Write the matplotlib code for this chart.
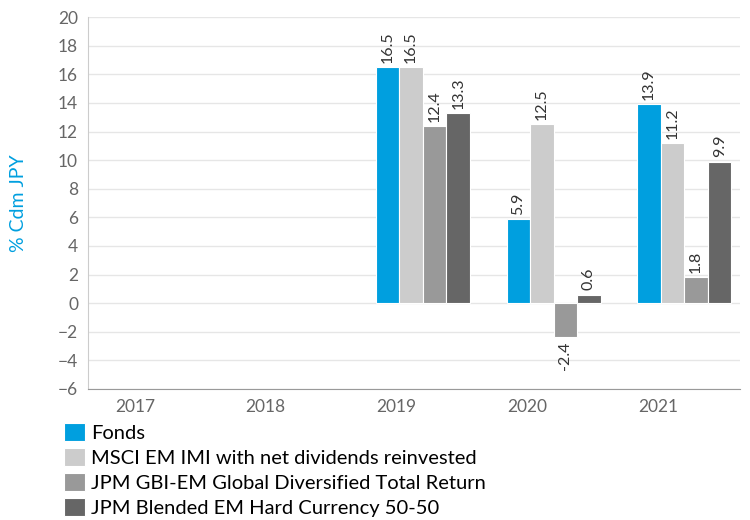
import matplotlib as mpl
mpl.use('Agg')
from matplotlib import pyplot as plt
import numpy as np

# %%
years = ['2017', '2018', '2019', '2020', '2021']
series = ['Fonds',
          'MSCI EM IMI with net dividends reinvested',
          'JPM GBI-EM Global Diversified Total Return',
          'JPM Blended EM Hard Currency 50-50']
fonds = [None, None, 16.5, 5.9, 13.9]
msci = [None, None, 16.5, 12.5, 11.2]
gbi = [None, None, 12.4, -2.4, 1.8]
blended = [None, None, 13.3, 0.6, 9.9]
colors = ['#009fdf', '#cccccc', '#999999', '#666666']

plt.rcParams['font.family'] = ['Lato', 'DejaVu Sans']

# %%
fig = plt.figure(figsize=(7.5, 5.2), dpi=100)
ax = fig.add_axes([0.117, 0.252, 0.870, 0.715])

x = np.arange(len(years))
bw = 0.18
start = -0.157
for k, (vals, col, name) in enumerate(zip([fonds, msci, gbi, blended], colors, series)):
    xs = [xi + start + bw * (k + 0.5) for xi, v in zip(x, vals) if v is not None]
    vs = [v for v in vals if v is not None]
    rects = ax.bar(xs, vs, width=bw, color=col, edgecolor='white', linewidth=0.8, label=name, zorder=3)
    for r, v in zip(rects, vs):
        xc = r.get_x() + r.get_width() / 2
        if v >= 0:
            ax.annotate('{:.1f}'.format(v), xy=(xc, v), xytext=(0, 3), textcoords='offset points',
                        rotation=90, ha='center', va='bottom', fontsize=11.5, color='#333333')
        else:
            ax.annotate('{:.1f}'.format(v), xy=(xc, v), xytext=(0, -3), textcoords='offset points',
                        rotation=90, ha='center', va='top', fontsize=11.5, color='#333333')

ax.set_xlim(-0.36, 4.63)
ax.set_ylim(-6, 20)
ax.set_yticks(np.arange(-6, 21, 2))
ax.set_xticks(x)
ax.set_xticklabels(years)
ax.tick_params(axis='both', length=0, labelsize=12.5, colors='#666666')
ax.tick_params(axis='x', pad=7)
ax.tick_params(axis='y', pad=7)
ax.grid(axis='y', color='#e6e6e6', linewidth=1, zorder=0)
ax.set_axisbelow(True)
for s in ['top', 'right']:
    ax.spines[s].set_visible(False)
ax.spines['left'].set_color('#cccccc')
ax.spines['bottom'].set_color('#999999')
ax.set_ylabel('% Cdm JPY', color='#009fdf', fontsize=14, labelpad=22)

ax.legend(loc='upper left', bbox_to_anchor=(0.085, 0.187), bbox_transform=fig.transFigure,
          frameon=False, fontsize=14.5, handlelength=1.05, handleheight=1.0,
          handletextpad=0.3, labelspacing=0.3, borderpad=0, borderaxespad=0)

plt.savefig('out.png', dpi=100)
